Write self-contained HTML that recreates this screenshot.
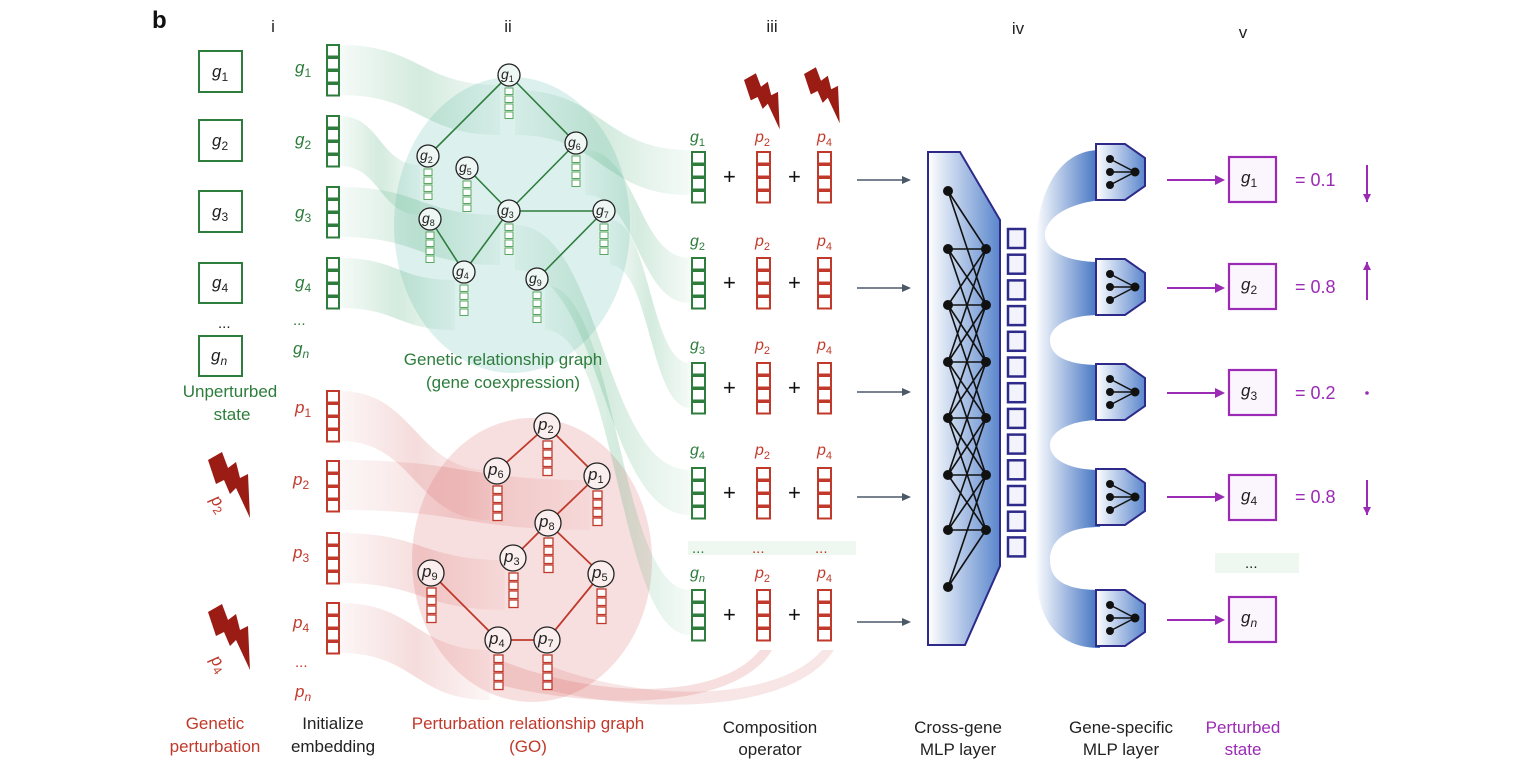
<!DOCTYPE html>
<html><head><meta charset="utf-8"><style>
html,body{margin:0;padding:0;background:#fff;}
svg{display:block;font-family:"Liberation Sans",sans-serif;}
.gi{font-style:italic;fill:#2e7d3c;font-size:17px}
.ri{font-style:italic;fill:#c0392b;font-size:17px}
.bk{font-style:italic;fill:#222;font-size:17px}
.nl{font-style:italic;fill:#222;font-size:14px}
.lab{font-size:17px;text-anchor:middle}
</style></head><body>
<svg id="s" width="1538" height="770" viewBox="0 0 1538 770" xmlns="http://www.w3.org/2000/svg">
<defs>
<linearGradient id="gband" x1="0" x2="1"><stop offset="0" stop-color="#3aa46a" stop-opacity="0.05"/><stop offset="0.5" stop-color="#3aa46a" stop-opacity="0.22"/><stop offset="1" stop-color="#3aa46a" stop-opacity="0.05"/></linearGradient>
<linearGradient id="rband" x1="0" x2="1"><stop offset="0" stop-color="#d05050" stop-opacity="0.05"/><stop offset="0.5" stop-color="#d05050" stop-opacity="0.2"/><stop offset="1" stop-color="#d05050" stop-opacity="0.05"/></linearGradient>
<linearGradient id="blue" x1="0" x2="1"><stop offset="0" stop-color="#ffffff"/><stop offset="1" stop-color="#3e70c0"/></linearGradient>
<linearGradient id="blue2" x1="0" x2="1"><stop offset="0" stop-color="#ffffff"/><stop offset="1" stop-color="#5a86cc"/></linearGradient>
</defs>
<g id="bg"></g>
<ellipse cx="512" cy="225" rx="118" ry="148" fill="#cdeae6" opacity="0.7"/>
<ellipse cx="532" cy="560" rx="120" ry="142" fill="#f6d4d4" opacity="0.75"/>
<g id="bands"></g>
<g id="shapes"></g>

<text x="152" y="28" font-size="24" font-weight="bold" fill="#111">b</text>
<g class="lab" fill="#222"><text x="273" y="32">i</text><text x="508" y="32">ii</text><text x="772" y="32">iii</text><text x="1018" y="34">iv</text><text x="1243" y="38">v</text></g>

<g fill="none" stroke="#2e7d3c" stroke-width="2">
<rect x="199" y="51" width="43" height="41"/><rect x="199" y="120" width="43" height="41"/><rect x="199" y="191" width="43" height="41"/><rect x="199" y="263" width="43" height="40"/><rect x="199" y="336" width="43" height="40"/></g>
<g class="bk"><text x="212" y="77">g<tspan font-size="12" dy="4" font-style="normal">1</tspan></text><text x="212" y="146">g<tspan font-size="12" dy="4" font-style="normal">2</tspan></text><text x="212" y="217">g<tspan font-size="12" dy="4" font-style="normal">3</tspan></text><text x="212" y="288">g<tspan font-size="12" dy="4" font-style="normal">4</tspan></text><text x="211" y="361">g<tspan font-size="12" dy="4">n</tspan></text></g>
<text x="218" y="328" font-size="15" fill="#222">...</text>
<g class="lab" fill="#2e7d3c"><text x="230" y="397">Unperturbed</text><text x="232" y="420">state</text></g>
<g class="lab" fill="#c0392b"><text x="215" y="729">Genetic</text><text x="215" y="752">perturbation</text></g>
<g class="lab" fill="#222"><text x="333" y="729">Initialize</text><text x="333" y="752">embedding</text></g>
<g class="lab" fill="#c0392b"><text x="528" y="729">Perturbation relationship graph</text><text x="528" y="752">(GO)</text></g>
<g class="lab" fill="#2e7d3c"><text x="503" y="365">Genetic relationship graph</text><text x="503" y="388">(gene coexpression)</text></g>
<g class="lab" fill="#222"><text x="770" y="733">Composition</text><text x="770" y="755">operator</text><text x="958" y="733">Cross-gene</text><text x="958" y="755">MLP layer</text><text x="1121" y="733">Gene-specific</text><text x="1121" y="755">MLP layer</text></g>
<g class="lab" fill="#9b2ab5"><text x="1243" y="733">Perturbed</text><text x="1243" y="755">state</text></g>

<text class="ri" transform="translate(210,500) rotate(55)">p<tspan font-size="12" dy="4" font-style="normal">2</tspan></text>
<text class="ri" transform="translate(210,660) rotate(55)">p<tspan font-size="12" dy="4" font-style="normal">4</tspan></text>

<g class="gi"><text x="295" y="73">g<tspan font-size="12" dy="4" font-style="normal">1</tspan></text><text x="295" y="145">g<tspan font-size="12" dy="4" font-style="normal">2</tspan></text><text x="295" y="218">g<tspan font-size="12" dy="4" font-style="normal">3</tspan></text><text x="295" y="288">g<tspan font-size="12" dy="4" font-style="normal">4</tspan></text><text x="293" y="354">g<tspan font-size="12" dy="4">n</tspan></text></g>
<text x="293" y="325" font-size="15" fill="#2e7d3c">...</text>
<g class="ri"><text x="295" y="413">p<tspan font-size="12" dy="4" font-style="normal">1</tspan></text><text x="293" y="485">p<tspan font-size="12" dy="4" font-style="normal">2</tspan></text><text x="293" y="558">p<tspan font-size="12" dy="4" font-style="normal">3</tspan></text><text x="293" y="628">p<tspan font-size="12" dy="4" font-style="normal">4</tspan></text><text x="295" y="697">p<tspan font-size="12" dy="4">n</tspan></text></g>
<text x="295" y="667" font-size="15" fill="#c0392b">...</text>

<g id="comp"></g>
<text x="692" y="553" font-size="15" fill="#2e7d3c">...</text><text x="752" y="553" font-size="15" fill="#c0392b">...</text><text x="815" y="553" font-size="15" fill="#c0392b">...</text>

<g class="bk"><text x="1241" y="183">g<tspan font-size="12" dy="4" font-style="normal">1</tspan></text><text x="1241" y="290">g<tspan font-size="12" dy="4" font-style="normal">2</tspan></text><text x="1241" y="396">g<tspan font-size="12" dy="4" font-style="normal">3</tspan></text><text x="1241" y="501">g<tspan font-size="12" dy="4" font-style="normal">4</tspan></text><text x="1241" y="623">g<tspan font-size="12" dy="4">n</tspan></text></g>
<g font-size="18" fill="#9b2ab5"><text x="1295" y="186">= 0.1</text><text x="1295" y="293">= 0.8</text><text x="1295" y="399">= 0.2</text><text x="1295" y="503">= 0.8</text></g>
<text x="1245" y="568" font-size="15" fill="#222">...</text>
<g id="nodes"></g>
</svg>
<script>
var NS="http://www.w3.org/2000/svg";
function el(p,t,a){var e=document.createElementNS(NS,t);for(var k in a)e.setAttribute(k,a[k]);document.getElementById(p).appendChild(e);return e;}
function stack(p,x,y,w,h,n,c,sw){for(var i=0;i<n;i++)el(p,'rect',{x:x,y:y+i*h,width:w,height:h-1.5,fill:'#fff',stroke:c,'stroke-width':sw});}
function band(x1,y1,x2,y2,h,g){var m=(x1+x2)/2;el('bands','path',{d:'M'+x1+','+y1+' C'+m+','+y1+' '+m+','+y2+' '+x2+','+y2+' L'+x2+','+(y2+h)+' C'+m+','+(y2+h)+' '+m+','+(y1+h)+' '+x1+','+(y1+h)+' Z',fill:'url(#'+g+')'});}
var G='#2e7d3c',R='#c0392b';
[[340,45,500,85],[340,116,420,165],[340,187,500,215],[340,258,455,280]].forEach(function(b){band(b[0],b[1],b[2],b[3],50,'gband');});
[[515,90,690,150],[585,150,690,258],[610,220,690,363],[515,225,690,470],[545,285,690,590]].forEach(function(b){band(b[0],b[1],b[2],b[3],45,'gband');});
[[340,391,490,470],[340,460,590,480],[340,533,505,560],[340,603,490,650]].forEach(function(b){band(b[0],b[1],b[2],b[3],50,'rband');});
el('bands','path',{d:'M500,660 C600,700 720,700 760,650 L772,650 C735,710 600,710 500,685 Z',fill:'#d05050','fill-opacity':0.18});
el('bands','path',{d:'M548,665 C650,705 780,700 822,650 L834,650 C795,712 650,715 548,690 Z',fill:'#d05050','fill-opacity':0.15});
[45,116,187,258].forEach(function(y){stack('shapes',327,y,12,13,4,G,2);});
[391,461,533,603].forEach(function(y){stack('shapes',327,y,12,13,4,R,2);});
var gn={1:[509,75],2:[428,156],5:[467,168],6:[576,143],3:[509,211],7:[604,211],8:[430,219],4:[464,272],9:[537,279]};
[[1,2],[1,6],[6,3],[5,3],[3,7],[3,4],[8,4],[7,9]].forEach(function(e){el('shapes','line',{x1:gn[e[0]][0],y1:gn[e[0]][1],x2:gn[e[1]][0],y2:gn[e[1]][1],stroke:G,'stroke-width':1.6});});
var rn={2:[547,426],6:[497,471],1:[597,476],8:[548,523],3:[513,558],5:[601,574],9:[431,573],4:[498,640],7:[547,640]};
[[2,6],[2,1],[1,8],[8,3],[8,5],[5,7],[7,4],[4,9]].forEach(function(e){el('shapes','line',{x1:rn[e[0]][0],y1:rn[e[0]][1],x2:rn[e[1]][0],y2:rn[e[1]][1],stroke:R,'stroke-width':1.8});});
for(var k in gn){var p=gn[k];stack('shapes',p[0]-4,p[1]+13,8,8,4,'#5aa860',1);el('shapes','circle',{cx:p[0],cy:p[1],r:11,fill:'#eef7f4',stroke:'#222','stroke-width':1.3});}
for(var k in rn){var p=rn[k];stack('shapes',p[0]-4,p[1]+15,9,9,4,R,1.3);el('shapes','circle',{cx:p[0],cy:p[1],r:13,fill:'#fbeeee',stroke:'#222','stroke-width':1.3});}
function nlab(p,ch,sub,big){var t=document.createElementNS(NS,'text');t.setAttribute('x',p[0]-(big?9:8));t.setAttribute('y',p[1]+4);t.setAttribute('font-style','italic');t.setAttribute('font-size',big?17:14);t.setAttribute('fill','#222');t.textContent=ch;var s=document.createElementNS(NS,'tspan');s.setAttribute('font-size',big?11:9);s.setAttribute('dy',3);s.setAttribute('font-style','normal');s.textContent=sub;t.appendChild(s);document.getElementById('nodes').appendChild(t);}
for(var k in gn)nlab(gn[k],'g',k,false);for(var k in rn)nlab(rn[k],'p',k,true);
function bolt(x,y,sc){el('shapes','polygon',{points:[[0,0],[14,-8],[20,8],[28,2],[32,18],[40,14],[42,58],[28,28],[22,34],[16,20],[8,24]].map(function(q){return (x+q[0]*sc)+','+(y+q[1]*sc);}).join(' '),fill:'#9b1c14'});}
bolt(208,460,1);bolt(208,612,1);bolt(744,80,0.85);bolt(804,74,0.85);
var rows=[[142,152],[246,258],[350,363],[455,468],[578,590]];var nm=['1','2','3','4','n'];
rows.forEach(function(r,i){stack('shapes',692,r[1],13,13,4,G,2);stack('shapes',757,r[1],13,13,4,R,2);stack('shapes',818,r[1],13,13,4,R,2);
var my=r[1]+30;[730,795].forEach(function(x){var t=el('comp','text',{x:x-7,y:my+2,'font-size':22,fill:'#111'});t.textContent='+';});
[[690,'g',G,nm[i]],[755,'p',R,'2'],[817,'p',R,'4']].forEach(function(a){var t=el('comp','text',{x:a[0],y:r[0],'font-style':'italic','font-size':16,fill:a[2]});t.textContent=a[1];var s=document.createElementNS(NS,'tspan');s.setAttribute('font-size',11);s.setAttribute('dy',4);if(a[3]!='n')s.setAttribute('font-style','normal');s.textContent=a[3];t.appendChild(s);});
var ay=[180,288,392,497,622][i];el('shapes','line',{x1:857,y1:ay,x2:905,y2:ay,stroke:'#4a5868','stroke-width':1.5});el('shapes','polygon',{points:'911,'+ay+' 902,'+(ay-4)+' 902,'+(ay+4),fill:'#4a5868'});
});
el('bg','rect',{x:688,y:541,width:168,height:14,fill:'#eef8f0'});el('bg','rect',{x:1215,y:553,width:84,height:20,fill:'#eef8f0'});
el('shapes','polygon',{points:'928,152 960,152 1000,220 1000,566 965,645 928,645',fill:'url(#blue2)',stroke:'#2e2a8a','stroke-width':2});
var L=[191,249,305,362,418,475,530,587],Rr=[249,305,362,418,475,530];
L.forEach(function(a){Rr.forEach(function(b){if(Math.abs(a-b)<120)el('shapes','line',{x1:948,y1:a,x2:986,y2:b,stroke:'#111','stroke-width':1.6});});});
L.forEach(function(a){el('shapes','circle',{cx:948,cy:a,r:5,fill:'#111'});});Rr.forEach(function(a){el('shapes','circle',{cx:986,cy:a,r:5,fill:'#111'});});
for(var i=0;i<13;i++)el('shapes','rect',{x:1008,y:229+i*25.7,width:17,height:19,fill:'#f3f3fb',stroke:'#2e2a8a','stroke-width':2.5});
el('shapes','path',{d:'M1035,260 C1035,190 1060,150 1100,150 L1100,200 C1060,205 1045,222 1045,235 C1045,250 1065,262 1100,262 L1100,315 C1065,315 1050,328 1050,340 C1050,355 1065,365 1100,365 L1100,420 C1070,420 1050,432 1050,445 C1050,460 1070,470 1100,470 L1100,527 C1060,527 1050,545 1050,560 C1050,580 1065,590 1100,590 L1100,648 C1050,648 1035,610 1035,560 Z',fill:'url(#blue)'});
[172,287,392,497,618].forEach(function(y){el('shapes','polygon',{points:'1096,'+(y-28)+' 1125,'+(y-28)+' 1145,'+(y-14)+' 1145,'+(y+14)+' 1125,'+(y+28)+' 1096,'+(y+28),fill:'url(#blue2)',stroke:'#2e2a8a','stroke-width':2});
[-13,0,13].forEach(function(d){el('shapes','line',{x1:1110,y1:y+d,x2:1135,y2:y,stroke:'#111','stroke-width':1.5});el('shapes','circle',{cx:1110,cy:y+d,r:4,fill:'#111'});});el('shapes','circle',{cx:1135,cy:y,r:4.5,fill:'#111'});});
var P='#9b2ab5';
[[180,157],[288,264],[393,370],[497,475],[620,597]].forEach(function(r){el('shapes','line',{x1:1167,y1:r[0],x2:1218,y2:r[0],stroke:P,'stroke-width':2});el('shapes','polygon',{points:'1225,'+r[0]+' 1215,'+(r[0]-5)+' 1215,'+(r[0]+5),fill:P});
el('shapes','rect',{x:1229,y:r[1],width:47,height:45,fill:'#fbf6fd',stroke:P,'stroke-width':2.2});});
function varr(y1,y2){el('shapes','line',{x1:1367,y1:y1,x2:1367,y2:y2,stroke:P,'stroke-width':2});var d=y2>y1?-8:8;el('shapes','polygon',{points:'1367,'+y2+' 1363,'+(y2+d)+' 1371,'+(y2+d),fill:P});}
varr(165,202);varr(300,262);varr(480,515);el('shapes','circle',{cx:1367,cy:393,r:1.8,fill:P});
</script>
</body></html>
